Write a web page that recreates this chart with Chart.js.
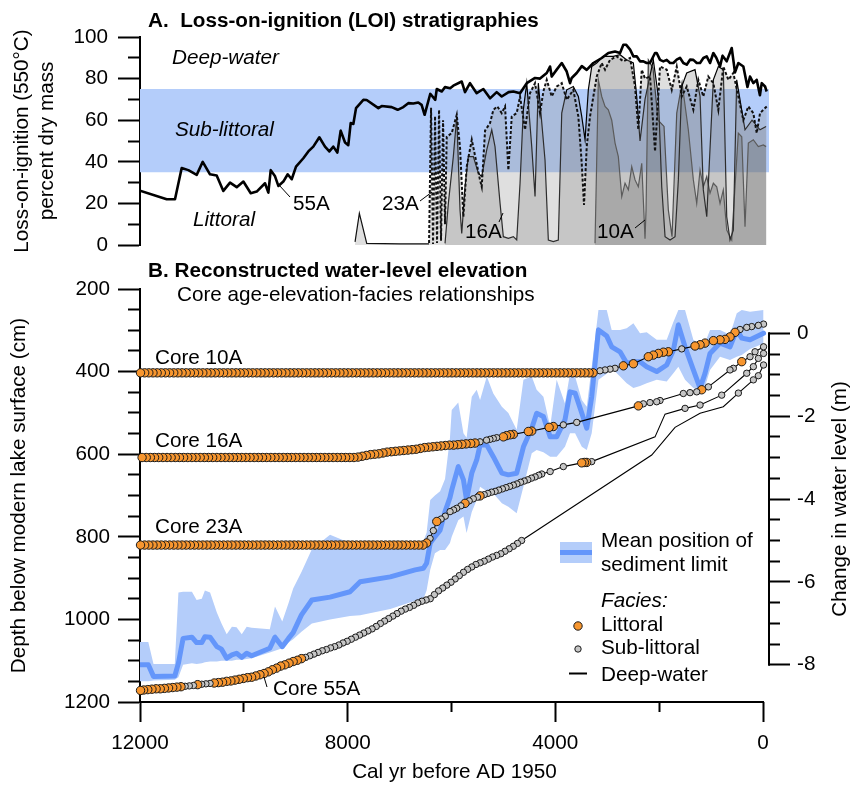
<!DOCTYPE html>
<html lang="en">
<head>
<meta charset="utf-8">
<title>LOI stratigraphies and reconstructed water level</title>
<script src="https://cdn.jsdelivr.net/npm/chart.js@4.4.1/dist/chart.umd.min.js"></script>
<style>
  html, body { margin: 0; padding: 0; background: #fff; }
  #figure { position: relative; width: 853px; height: 785px; }
  #figure canvas { position: absolute; left: 0; top: 0; }
</style>
</head>
<body>
<div id="figure">
  <canvas id="loiChart" width="853" height="785"></canvas>
  <canvas id="levelChart" width="853" height="785"></canvas>
</div>
<script>
// ---------- Panel A: loss-on-ignition (% dry mass) by cal yr BP ----------
const loi55Age = [-70, -39, 25, 60, 122, 186, 250, 300, 379, 475,
  540, 603, 700, 780, 828, 900, 957, 1021, 1085, 1149,
  1213, 1277, 1342, 1406, 1470, 1535, 1600, 1663, 1727, 1791,
  1855, 1920, 1984, 2048, 2080, 2177, 2241, 2305, 2369, 2433,
  2497, 2560, 2639, 2690, 2754, 2851, 2979, 3107, 3268, 3396,
  3490, 3589, 3685, 3717, 3781, 3877, 3974, 4070, 4102, 4166,
  4295, 4391, 4551, 4680, 4808, 4900, 5033, 5130, 5258, 5387,
  5515, 5644, 5740, 5803, 5965, 6026, 6125, 6188, 6284, 6313,
  6409, 6518, 6576, 6640, 6736, 6833, 6928, 7037, 7152, 7345,
  7409, 7634, 7698, 7839, 7891, 7942, 7988, 8051, 8135, 8199,
  8276, 8353, 8437, 8546, 8662, 8758, 8854, 8995, 9078, 9155,
  9239, 9335, 9399, 9482, 9528, 9592, 9752, 9867, 10009, 10137,
  10266, 10395, 10523, 10652, 10792, 10908, 11069, 11197, 11326, 11486,
  12000];
const loi55 = [73.8, 76.2, 77.8, 72, 79.4, 77.8, 81, 76, 85.8, 87.5,
  83, 94.7, 88.3, 91, 85.8, 90, 92.3, 87.5, 90.7, 89.9,
  87.5, 87.5, 89, 89.1, 86.7, 87.5, 90, 89.1, 87.5, 87.5,
  89, 88.3, 89, 92.3, 92.3, 87.5, 87.5, 88.3, 88.3, 90.7,
  90.7, 93.9, 96.3, 96.3, 92.3, 93, 92.3, 89.9, 87.5, 84.2,
  86, 82.7, 80.3, 77.8, 83.4, 87.5, 84.3, 81, 85.8, 82.7,
  80, 80.3, 77.8, 73, 73.8, 73.5, 71.4, 73.5, 70.5, 75,
  73, 77.8, 73.5, 78.6, 76.6, 75.4, 75.9, 73.8, 75, 69.8,
  72.7, 62.6, 67.4, 68.5, 68, 68.2, 66.3, 65, 66.3, 66.8,
  65.8, 69.7, 69.8, 65.8, 58.2, 58.6, 48, 49.3, 55, 44.4,
  47.3, 45, 47.3, 51.8, 47.3, 45, 41.7, 37.7, 31.6, 34,
  30.5, 28.4, 33, 36, 25.2, 29.7, 25.7, 24.9, 30.5, 27.8,
  30, 26, 33.4, 34, 40, 33.7, 36, 37, 22, 22,
  26.1];

const loi23Age = [-71, -6, 58, 121, 187, 283, 379, 476, 572, 668,
  765, 861, 957, 1054, 1150, 1246, 1342, 1470, 1566, 1662,
  1758, 1855, 1984, 2080, 2176, 2273, 2336, 2402, 2465, 2562,
  2690, 2818, 2947, 3043, 3107, 3203, 3268, 3332, 3396, 3448,
  3492, 3557, 3654, 3781, 3877, 3973, 4070, 4166, 4231, 4295,
  4391, 4488, 4584, 4680, 4744, 4840, 4905, 4969, 5033, 5117,
  5194, 5258, 5354, 5418, 5451, 5610, 5707, 5772, 5836, 5899,
  5996, 6092, 6125, 6163, 6202, 6240, 6279, 6317, 6356, 6394,
  6433, 6991, 7633, 7775, 7858];
const loi23 = [66.6, 65, 63.4, 53.8, 63.4, 66.6, 60, 71.4, 82.7, 79.4,
  85.8, 65, 77.8, 81, 71.4, 79.4, 65, 76.2, 71.4, 85.8,
  74.6, 84.3, 85.8, 45, 81, 80, 84.3, 55.4, 76.2, 89.9,
  88.3, 90.7, 89, 84.3, 87.5, 81, 71.4, 61.8, 47.3, 19.3,
  39.3, 61.8, 74.6, 69.8, 77.8, 76.2, 71.4, 79.4, 73.8, 63.4,
  77.8, 73, 55.4, 71.4, 63.4, 61.8, 36, 66.6, 63.4, 66.6,
  65, 58.6, 55, 28, 31.3, 50.6, 37.7, 13.6, 47, 62.6,
  53.8, 52, 10, 60, 2, 65, 1, 62, 0.5, 66,
  0.5, 0.5, 0.8, 15.2, 1.5];

const loi16Age = [-58, 58, 212, 347, 507, 572, 636, 699, 765, 861,
  957, 1084, 1150, 1213, 1310, 1470, 1566, 1631, 1695, 1791,
  1887, 1951, 2016, 2113, 2273, 2369, 2433, 2498, 2625, 2754,
  2883, 3076, 3203, 3299, 3365, 3428, 3492, 3557, 3654, 3781,
  3877, 3943, 4039, 4135, 4199, 4328, 4391, 4455, 4551, 4617,
  4680, 4744, 4809, 4905, 5002, 5065, 5162, 5225, 5322, 5418,
  5483, 5580, 5676, 5739, 5803, 5836, 5899, 5965, 6061, 6125];
const loi16 = [57, 55.4, 60, 55.4, 79.4, 7.2, 2.4, 13.6, 84.3, 85.8,
  79.4, 13.6, 26.5, 71.4, 84.3, 82.7, 76.2, 31.3, 4, 2.4,
  4, 28, 71.4, 89, 70, 50, 71.4, 87.5, 89, 91.5,
  90.7, 90.7, 87.5, 85.8, 74.6, 50.6, 61.8, 71.4, 76.2, 74.6,
  63.4, 2.4, 1.6, 2.4, 40.9, 77.8, 23.3, 47.3, 77.8, 65,
  29.7, 2.4, 4, 3.2, 4, 20, 47.3, 55.4, 45.7, 32.9,
  34.5, 42.5, 42.5, 28, 5.6, 16.9, 61.8, 42.5, 20, 0.8];

const loi10Age = [-58, -6, 91, 187, 283, 347, 410, 476, 603, 699,
  765, 828, 892, 957, 1021, 1084, 1150, 1213, 1277, 1342,
  1439, 1560, 1662, 1753, 1824, 1907, 2022, 2119, 2209, 2253,
  2273, 2336, 2402, 2465, 2529, 2594, 2658, 2721, 2787, 2850,
  2914, 2980, 3043, 3107, 3172, 3236];
const loi10 = [47.3, 48.1, 47.3, 50.6, 49, 8.8, 52, 53.8, 2.4, 7.2,
  26.5, 20, 28, 29.7, 24.9, 32.9, 28, 36, 20, 31.3,
  55.4, 78, 63.4, 4, 16.9, 57, 60, 85, 89, 16.9,
  3, 39.3, 28, 31.3, 37.7, 26.5, 29.7, 23.3, 42.5, 49,
  60, 65, 66.6, 71.4, 79.4, 0.8];

const subLittoralLoi = [35, 75];          // LOI limits of the sub-littoral facies
const loiTicks = [0, 10, 20, 30, 40, 50, 60, 70, 80, 90, 100];
const loiLabels = [0, 20, 40, 60, 80, 100];

// ---------- Panel B: reconstructed water level ----------
const meanAge = [-10, 250, 410, 506, 636, 828, 1021, 1117, 1213, 1342,
  1502, 1631, 1727, 1855, 2048, 2241, 2369, 2497, 2626, 2754,
  2915, 3010, 3170, 3300, 3395, 3490, 3620, 3717, 3815, 3975,
  4100, 4230, 4360, 4455, 4615, 4745, 4905, 5030, 5195, 5320,
  5450, 5515, 5610, 5710, 5770, 5870, 5996, 6030, 6125, 6220,
  6320, 6410, 6480, 6540, 6700, 7180, 7760, 7955, 8340, 8690,
  8890, 9050, 9140, 9260, 9400, 9500, 9850, 9945, 10040, 10140,
  10230, 10330, 10430, 10520, 10650, 10750, 10810, 10910, 11000, 11170,
  11260, 11330, 11740, 11840, 12000];
const meanDepth = [307, 323, 319, 299, 340, 331, 356, 404, 440, 396,
  340, 287, 348, 384, 400, 388, 376, 376, 380, 352,
  340, 314, 299, 461, 537, 501, 452, 449, 517, 558,
  558, 509, 501, 537, 582, 646, 650, 646, 606, 578,
  578, 614, 646, 711, 662, 630, 687, 705, 739, 784,
  800, 815, 864, 876, 880, 897, 909, 933, 946, 953,
  989, 1032, 1046, 1066, 1043, 1070, 1088, 1082, 1092, 1082,
  1086, 1094, 1072, 1066, 1043, 1042, 1056, 1056, 1043, 1046,
  1106, 1137, 1138, 1110, 1110];
const bandShallow = [251, 255, 251, 259, 311, 299, 299, 330, 335, 323,
  251, 251, 280, 323, 323, 305, 307, 283, 295, 299,
  299, 251, 251, 388, 485, 469, 412, 404, 477, 420,
  533, 461, 444, 412, 420, 541, 500, 485, 453, 412,
  469, 444, 461, 560, 549, 475, 493, 560, 660, 690,
  700, 711, 790, 810, 818, 818, 818, 815, 795, 830,
  885, 925, 961, 1005, 969, 1024, 1020, 1018, 1036, 1019,
  1018, 1036, 1010, 983, 935, 930, 950, 953, 933, 933,
  935, 1108, 1108, 1055, 1055];
const bandDeep = [332, 345, 360, 364, 372, 364, 396, 436, 445, 440,
  420, 388, 404, 424, 420, 428, 435, 440, 428, 412,
  392, 405, 420, 549, 590, 582, 549, 549, 582, 606,
  606, 595, 590, 598, 679, 743, 727, 719, 695, 690,
  679, 711, 740, 791, 751, 760, 800, 815, 832, 832,
  840, 880, 930, 950, 955, 975, 990, 992, 1000, 1010,
  1030, 1048, 1056, 1070, 1076, 1080, 1094, 1096, 1098, 1098,
  1100, 1100, 1100, 1102, 1102, 1104, 1106, 1108, 1106, 1110,
  1140, 1146, 1148, 1150, 1150];

// facies codes start at the youngest sample: L littoral, S sub-littoral, D deep-water;
// samples past the end of a code string are littoral
const core10Age = [-10, 90, 218, 314, 443, 539, 636, 732, 828, 956,
  1117, 1213, 1310, 1566, 1824, 1920, 2016, 2113, 2209, 2497,
  2690, 2851, 2947, 3043, 3140, 3274,
  3350, 3430, 3510, 3590, 3670, 3750, 3830, 3910, 3990, 4070,
  4150, 4230, 4310, 4390, 4470, 4550, 4630, 4710, 4790, 4870,
  4950, 5030, 5110, 5190, 5270, 5350, 5430, 5510, 5590, 5670,
  5750, 5830, 5910, 5990, 6070, 6150, 6230, 6310, 6390, 6470,
  6550, 6630, 6710, 6790, 6870, 6950, 7030, 7110, 7190, 7270,
  7350, 7430, 7510, 7590, 7670, 7750, 7830, 7910, 7990, 8070,
  8150, 8230, 8310, 8390, 8470, 8550, 8630, 8710, 8790, 8870,
  8950, 9030, 9110, 9190, 9270, 9350, 9430, 9510, 9590, 9670,
  9750, 9830, 9910, 9990, 10070, 10150, 10230, 10310, 10390, 10470,
  10550, 10630, 10710, 10790, 10870, 10950, 11030, 11110, 11190, 11270,
  11350, 11430, 11510, 11590, 11670, 11750, 11830, 11910, 11990];
const core10Depth = [285, 288, 291, 293, 298, 305, 316, 322, 323, 325,
  331, 335, 338, 345, 352, 353, 356, 360, 364, 381,
  386, 392, 394, 396, 398, 403,
  403, 403, 403, 403, 403, 403, 403, 403, 403, 403,
  403, 403, 403, 403, 403, 403, 403, 403, 403, 403,
  403, 403, 403, 403, 403, 403, 403, 403, 403, 403,
  403, 403, 403, 403, 403, 403, 403, 403, 403, 403,
  403, 403, 403, 403, 403, 403, 403, 403, 403, 403,
  403, 403, 403, 403, 403, 403, 403, 403, 403, 403,
  403, 403, 403, 403, 403, 403, 403, 403, 403, 403,
  403, 403, 403, 403, 403, 403, 403, 403, 403, 403,
  403, 403, 403, 403, 403, 403, 403, 403, 403, 403,
  403, 403, 403, 403, 403, 403, 403, 403, 403, 403,
  403, 403, 403, 403, 403, 403, 403, 403, 403];
const core10Facies = 'SSSSS' + 'LLLLLLLL' + 'S' + 'LLLLLLL' + 'SSSS' + 'L';

const core16Age = [-10, 154, 250, 410, 571, 636, 1053, 1181, 1277, 1406,
  1535, 1984, 2048, 2177, 2305, 2401, 3588, 3846, 4039, 4120,
  4455, 4520, 4809, 4870, 4940, 5002, 5130, 5195, 5260, 5325,
  5451, 5547, 5630, 5720, 5800, 5880, 5960, 6040, 6120, 6200,
  6280, 6360, 6440, 6520, 6600, 6680, 6760, 6840, 6920, 7000,
  7080, 7160, 7240, 7320, 7400, 7480, 7560, 7640, 7720, 7800,
  7880, 7960, 8040, 8120, 8200, 8280, 8360, 8440, 8520, 8600,
  8680, 8760, 8840, 8920, 9000, 9080, 9160, 9240, 9320, 9400,
  9480, 9560, 9640, 9720, 9800, 9880, 9960, 10040, 10120, 10200,
  10280, 10360, 10440, 10520, 10600, 10680, 10760, 10840, 10920, 11000,
  11080, 11160, 11240, 11320, 11400, 11480, 11560, 11640, 11720, 11800,
  11880, 11960];
const core16Depth = [340, 352, 364, 376, 392, 396, 437, 444, 449, 451,
  453, 470, 473, 475, 478, 483, 523, 529, 533, 535,
  544, 545, 552, 553, 555, 558, 560, 562, 564, 566,
  570, 573, 574, 575, 576, 577, 578, 578, 579, 580,
  581, 582, 583, 584, 586, 588, 589, 590, 591, 592,
  593, 594, 595, 597, 599, 600, 601, 603, 605, 607,
  608, 608, 608, 608, 608, 608, 608, 608, 608, 608,
  608, 608, 608, 608, 608, 608, 608, 608, 608, 608,
  608, 608, 608, 608, 608, 608, 608, 608, 608, 608,
  608, 608, 608, 608, 608, 608, 608, 608, 608, 608,
  608, 608, 608, 608, 608, 608, 608, 608, 608, 608,
  608, 608];
const core16Facies = 'SSSL' + 'SSSL' + 'SSSSSSSL' + 'SS' + 'LLLLLLLL' + 'SSSSS' + 'LL';

const core23Age = [-10, 90, 186, 314, 796, 1213, 1502, 1887, 2080, 3300,
  3396, 3440, 3492, 3846, 4100, 4262, 4320, 4390, 4460, 4530,
  4600, 4670, 4740, 4809, 4880, 4950, 5020, 5090, 5160, 5230,
  5300, 5370, 5451, 5500, 5580, 5660, 5740, 5820, 5900, 5960,
  6028, 6120, 6200, 6284, 6350, 6413, 6480,
  6550, 6630, 6710, 6790, 6870, 6950, 7030, 7110, 7190, 7270,
  7350, 7430, 7510, 7590, 7670, 7750, 7830, 7910, 7990, 8070,
  8150, 8230, 8310, 8390, 8470, 8550, 8630, 8710, 8790, 8870,
  8950, 9030, 9110, 9190, 9270, 9350, 9430, 9510, 9590, 9670,
  9750, 9830, 9910, 9990, 10070, 10150, 10230, 10310, 10390, 10470,
  10550, 10630, 10710, 10790, 10870, 10950, 11030, 11110, 11190, 11270,
  11350, 11430, 11510, 11590, 11670, 11750, 11830, 11910, 11990];
const core23Depth = [356, 368, 388, 404, 457, 481, 489, 503, 558, 618,
  620, 620, 621, 630, 642, 648, 651, 655, 658, 662,
  665, 668, 672, 675, 678, 681, 684, 687, 690, 692,
  695, 698, 701, 704, 708, 713, 719, 725, 731, 735,
  739, 750, 757, 763, 785, 804, 815,
  820, 820, 820, 820, 820, 820, 820, 820, 820, 820,
  820, 820, 820, 820, 820, 820, 820, 820, 820, 820,
  820, 820, 820, 820, 820, 820, 820, 820, 820, 820,
  820, 820, 820, 820, 820, 820, 820, 820, 820, 820,
  820, 820, 820, 820, 820, 820, 820, 820, 820, 820,
  820, 820, 820, 820, 820, 820, 820, 820, 820, 820,
  820, 820, 820, 820, 820, 820, 820, 820, 820];
const core23Facies = 'SSSSSSS' + 'DD' + 'S' + 'LLL' + 'SSS' + 'SSSSSSSS' + 'SSSSSSSS' +
  'L' + 'SSS' + 'L' + 'SSSSSS' + 'L' + 'SS' + 'L';

const core55Age = [-10, 90, 186, 475, 765, 1213, 1695, 2144,
  4650, 4730, 4810, 4890, 4970, 5050, 5130, 5210, 5290, 5370,
  5450, 5530, 5610, 5690, 5770, 5850, 5930, 6010, 6090, 6170,
  6250, 6330, 6410, 6490, 6570, 6650, 6730, 6810, 6890, 6970,
  7050, 7130, 7210, 7290, 7370, 7450, 7530, 7610, 7690, 7770,
  7850, 7930, 8010, 8090, 8170, 8250, 8330, 8410, 8490, 8570,
  8650, 8730, 8810, 8890, 8970, 9050, 9130, 9210, 9290, 9370,
  9450, 9530, 9610, 9690, 9770, 9850, 9930, 10010, 10090, 10170,
  10250, 10330, 10410, 10490, 10570, 10650, 10730, 10810, 10890, 10970,
  11050, 11130, 11210, 11290, 11370, 11450, 11530, 11610, 11690, 11770,
  11850, 11930, 11990];
const core55Depth = [384, 410, 420, 452, 485, 501, 535, 602,
  809, 816, 823, 829, 835, 841, 845, 849, 854, 859,
  863, 867, 873, 879, 886, 894, 902, 910, 917, 924,
  931, 940, 950, 953, 956, 960, 966, 971, 975, 980,
  986, 992, 998, 1004, 1010, 1017, 1023, 1028, 1033, 1038,
  1043, 1048, 1053, 1057, 1062, 1066, 1069, 1073, 1076, 1080,
  1084, 1088, 1092, 1095, 1099, 1102, 1106, 1110, 1113, 1118,
  1122, 1127, 1131, 1134, 1137, 1140, 1141, 1143, 1145, 1147,
  1149, 1150, 1152, 1153, 1154, 1155, 1156, 1157, 1158, 1160,
  1161, 1162, 1163, 1164, 1165, 1166, 1167, 1168, 1168, 1169,
  1170, 1171, 1172];
const core55Facies = 'SSSS' + 'DDDD' +
  'SSSSSSSSSS' + 'SSSSSSSSSS' + 'SSSSSSSSSS' + 'SSSSSSSSSS' + 'SSSSSSSSSS' + 'SSS' +
  'LLLLLLLLLL' + 'LLLLLLLLLL' + 'LL' + 'SSSLSSS';

const ageTicks = [0, 2000, 4000, 6000, 8000, 10000, 12000];
const ageLabels = [0, 4000, 8000, 12000];
const depthTicks = [200, 250, 300, 350, 400, 450, 500, 550, 600, 650, 700,
  750, 800, 850, 900, 950, 1000, 1050, 1100, 1150, 1200];
const depthLabels = [200, 400, 600, 800, 1000, 1200];
const levelTicks = [0, -0.5, -1, -1.5, -2, -2.5, -3, -3.5, -4, -4.5, -5,
  -5.5, -6, -6.5, -7, -7.5, -8];
const levelLabels = [0, -2, -4, -6, -8];

// ---------- styling ----------
const FONT = '"Liberation Sans", Arial, Helvetica, sans-serif';
const SIZE = 20.7;
const BAND_BLUE = 'rgb(180, 205, 250)';
const LINE_BLUE = 'rgb(100, 150, 250)';
const ORANGE = '#f7962f';
const GREY = '#c6c6c6';
const AGE_MIN = -115;   // a little past 0 so the right axis clears the last samples
const AGE_MAX = 12000;

const pts = (xs, ys) => xs.map((x, i) => ({ x: x, y: ys[i] }));

// long ticks at labelled values, short ones between
function tickMarks(majors, len, minorLen, fromOuterEnd) {
  return {
    drawOnChartArea: false,
    drawTicks: true,
    tickLength: len,
    tickWidth: 2,
    tickColor: '#000',
    tickBorderDash: (ctx) => {
      if (!ctx.tick || majors.includes(ctx.tick.value)) return [];
      return fromOuterEnd ? [0, len - minorLen, minorLen, 500] : [minorLen, 500];
    }
  };
}

function fixedTicks(values) {
  return (scale) => { scale.ticks = values.map((v) => ({ value: v })); };
}

function tickText(majors, padding) {
  return {
    autoSkip: false,
    maxRotation: 0,
    padding: padding,
    color: '#000',
    font: { family: FONT, size: SIZE },
    callback: (v) => (majors.includes(v) ? String(v) : '')
  };
}

function say(ctx, str, x, y, style) {
  ctx.font = (style ? style + ' ' : '') + SIZE + 'px ' + FONT;
  ctx.fillText(str, x, y);
}

function rule(ctx, x1, y1, x2, y2, width) {
  ctx.lineWidth = width;
  ctx.beginPath();
  ctx.moveTo(x1, y1);
  ctx.lineTo(x2, y2);
  ctx.stroke();
}

function dot(ctx, x, y, r, fill) {
  ctx.beginPath();
  ctx.arc(x, y, r, 0, Math.PI * 2);
  ctx.fillStyle = fill;
  ctx.fill();
  ctx.lineWidth = 1;
  ctx.strokeStyle = '#1a1a1a';
  ctx.stroke();
}

// ---------- panel A ----------
const loiNotes = {
  id: 'loiNotes',
  afterDraw(chart) {
    const ctx = chart.ctx;
    ctx.save();
    ctx.fillStyle = '#000';
    ctx.strokeStyle = '#000';
    say(ctx, 'A.  Loss-on-ignition (LOI) stratigraphies', 148, 27, 'bold');
    say(ctx, 'Deep-water', 172, 64, 'italic');
    say(ctx, 'Sub-littoral', 175, 136, 'italic');
    say(ctx, 'Littoral', 193, 226, 'italic');
    say(ctx, '55A', 293, 210);
    say(ctx, '23A', 382, 210);
    say(ctx, '16A', 465, 238);
    say(ctx, '10A', 597, 238);
    rule(ctx, 279, 185, 290, 197, 1);
    rule(ctx, 420, 201, 432, 192, 1);
    rule(ctx, 499, 222, 503, 213, 1);
    rule(ctx, 635, 228, 645, 220, 1);
    ctx.restore();
  }
};

new Chart(document.getElementById('loiChart'), {
  type: 'line',
  data: {
    datasets: [
      {
        label: 'Core 55A',
        data: pts(loi55Age, loi55),
        borderColor: '#000',
        borderWidth: 2.6,
        borderJoinStyle: 'round',
        pointRadius: 0,
        fill: false
      },
      {
        label: 'Core 23A',
        data: pts(loi23Age, loi23),
        borderColor: '#111',
        borderWidth: 2,
        borderDash: [3, 2],
        pointRadius: 0,
        fill: 'origin',
        backgroundColor: 'rgba(150, 150, 150, 0.3)',
        segment: {
          borderDash: (c) => (c.p0.parsed.x >= 6433 ? [] : undefined),
          borderWidth: (c) => (c.p0.parsed.x >= 6433 ? 1.2 : undefined)
        }
      },
      {
        label: 'Core 16A',
        data: pts(loi16Age, loi16),
        borderColor: '#000',
        borderWidth: 1.2,
        pointRadius: 0,
        fill: 'origin',
        backgroundColor: 'rgba(110, 110, 110, 0.25)'
      },
      {
        label: 'Core 10A',
        data: pts(loi10Age, loi10),
        borderColor: '#333',
        borderWidth: 1.2,
        pointRadius: 0,
        fill: 'origin',
        backgroundColor: 'rgba(70, 70, 70, 0.3)'
      },
      {
        label: 'Sub-littoral',
        data: pts([AGE_MIN, AGE_MAX], [subLittoralLoi[1], subLittoralLoi[1]]),
        borderColor: 'rgba(0,0,0,0)',
        borderWidth: 0,
        pointRadius: 0,
        fill: '+1',
        backgroundColor: BAND_BLUE
      },
      {
        label: 'Sub-littoral base',
        data: pts([AGE_MIN, AGE_MAX], [subLittoralLoi[0], subLittoralLoi[0]]),
        borderColor: 'rgba(0,0,0,0)',
        borderWidth: 0,
        pointRadius: 0,
        fill: false
      }
    ]
  },
  options: {
    responsive: false,
    animation: false,
    events: [],
    layout: { padding: { top: 37, right: 84, bottom: 540, left: 0 } },
    plugins: { legend: { display: false }, tooltip: { enabled: false } },
    scales: {
      x: { type: 'linear', reverse: true, min: AGE_MIN, max: AGE_MAX, display: false },
      y: {
        type: 'linear',
        min: 0,
        max: 100,
        afterBuildTicks: fixedTicks(loiTicks),
        afterFit: (s) => { s.width = 140; },
        border: { display: true, color: '#000', width: 2 },
        grid: tickMarks(loiLabels, 22, 12, true),
        ticks: tickText(loiLabels, 10),
        title: {
          display: true,
          text: ['Loss-on-ignition (550°C)', 'percent dry mass'],
          color: '#000',
          font: { family: FONT, size: SIZE },
          padding: { top: 10, bottom: 0 }
        }
      }
    }
  },
  plugins: [loiNotes]
});

// ---------- panel B ----------
function coreSet(name, ages, depths, codes) {
  const code = (c) => codes[c.dataIndex] || 'L';
  return {
    label: name,
    data: pts(ages, depths),
    borderColor: '#000',
    borderWidth: 1.1,
    fill: false,
    clip: false,
    pointRadius: (c) => (code(c) === 'D' ? 0 : code(c) === 'S' ? 3.2 : 4.2),
    pointBackgroundColor: (c) => (code(c) === 'S' ? GREY : ORANGE),
    pointBorderColor: '#1a1a1a',
    pointBorderWidth: 1
  };
}

const levelNotes = {
  id: 'levelNotes',
  afterDraw(chart) {
    const { ctx, chartArea, scales } = chart;
    const x = scales.x;
    const lvl = scales.y2;
    ctx.save();
    ctx.strokeStyle = '#000';
    ctx.fillStyle = '#000';
    // bottom axis line up to 0 yr, right axis line over 0 to -8 m
    rule(ctx, chartArea.left - 1, chartArea.bottom, x.getPixelForValue(0) + 1, chartArea.bottom, 2);
    rule(ctx, chartArea.right, lvl.getPixelForValue(0) - 1, chartArea.right, lvl.getPixelForValue(-8) + 1, 2);

    say(ctx, 'B. Reconstructed water-level elevation', 148, 277, 'bold');
    say(ctx, 'Core age-elevation-facies relationships', 177, 301);
    say(ctx, 'Core 10A', 155, 364);
    say(ctx, 'Core 16A', 155, 447);
    say(ctx, 'Core 23A', 155, 533);
    say(ctx, 'Core 55A', 273, 695);
    rule(ctx, 264, 677, 267, 687, 1);

    // legend
    ctx.fillStyle = BAND_BLUE;
    ctx.fillRect(560, 542, 32, 21);
    ctx.strokeStyle = LINE_BLUE;
    rule(ctx, 560, 552.5, 592, 552.5, 5);
    ctx.fillStyle = '#000';
    say(ctx, 'Mean position of', 601, 547);
    say(ctx, 'sediment limit', 601, 571);
    say(ctx, 'Facies:', 601, 607, 'italic');
    say(ctx, 'Littoral', 601, 631);
    say(ctx, 'Sub-littoral', 601, 654);
    say(ctx, 'Deep-water', 601, 681);
    dot(ctx, 578, 626, 4.2, ORANGE);
    dot(ctx, 578, 649, 3.2, GREY);
    ctx.strokeStyle = '#000';
    rule(ctx, 569, 673.5, 587, 673.5, 2);

    // right axis title
    ctx.fillStyle = '#000';
    ctx.translate(840, 499);
    ctx.rotate(-Math.PI / 2);
    ctx.textAlign = 'center';
    ctx.textBaseline = 'middle';
    say(ctx, 'Change in water level (m)', 0, 0);
    ctx.restore();
  }
};

new Chart(document.getElementById('levelChart'), {
  type: 'line',
  data: {
    datasets: [
      coreSet('Core 10A', core10Age, core10Depth, core10Facies),
      coreSet('Core 16A', core16Age, core16Depth, core16Facies),
      coreSet('Core 23A', core23Age, core23Depth, core23Facies),
      coreSet('Core 55A', core55Age, core55Depth, core55Facies),
      {
        label: 'Mean position of sediment limit',
        data: pts(meanAge, meanDepth),
        borderColor: LINE_BLUE,
        borderWidth: 5,
        borderJoinStyle: 'round',
        borderCapStyle: 'round',
        pointRadius: 0,
        fill: false
      },
      {
        label: 'Range (shallow)',
        data: pts(meanAge, bandShallow),
        borderColor: 'rgba(0,0,0,0)',
        borderWidth: 0,
        pointRadius: 0,
        fill: '+1',
        backgroundColor: BAND_BLUE
      },
      {
        label: 'Range (deep)',
        data: pts(meanAge, bandDeep),
        borderColor: 'rgba(0,0,0,0)',
        borderWidth: 0,
        pointRadius: 0,
        fill: false
      }
    ]
  },
  options: {
    responsive: false,
    animation: false,
    events: [],
    layout: { padding: { top: 289, right: 0, bottom: 0, left: 0 } },
    plugins: { legend: { display: false }, tooltip: { enabled: false } },
    scales: {
      x: {
        type: 'linear',
        reverse: true,
        min: AGE_MIN,
        max: AGE_MAX,
        afterBuildTicks: fixedTicks(ageTicks),
        afterFit: (s) => { s.height = 83; },
        border: { display: false },
        grid: tickMarks(ageLabels, 20, 10, false),
        ticks: tickText(ageLabels, 9),
        title: {
          display: true,
          text: 'Cal yr before AD 1950',
          color: '#000',
          font: { family: FONT, size: SIZE },
          padding: { top: 0, bottom: 0 }
        }
      },
      y: {
        type: 'linear',
        reverse: true,
        min: 200,
        max: 1200,
        afterBuildTicks: fixedTicks(depthTicks),
        afterFit: (s) => { s.width = 140; },
        border: { display: true, color: '#000', width: 2 },
        grid: tickMarks(depthLabels, 22, 12, true),
        ticks: tickText(depthLabels, 8),
        title: {
          display: true,
          text: 'Depth below modern lake surface (cm)',
          color: '#000',
          font: { family: FONT, size: SIZE },
          padding: { top: 7, bottom: 0 }
        }
      },
      y2: {
        type: 'linear',
        position: 'right',
        min: -8.9,
        max: 1.07,
        afterBuildTicks: fixedTicks(levelTicks),
        afterFit: (s) => { s.width = 84; },
        border: { display: false },
        grid: tickMarks(levelLabels, 21, 11, false),
        ticks: tickText(levelLabels, 7)
      }
    }
  },
  plugins: [levelNotes]
});
</script>
</body>
</html>
